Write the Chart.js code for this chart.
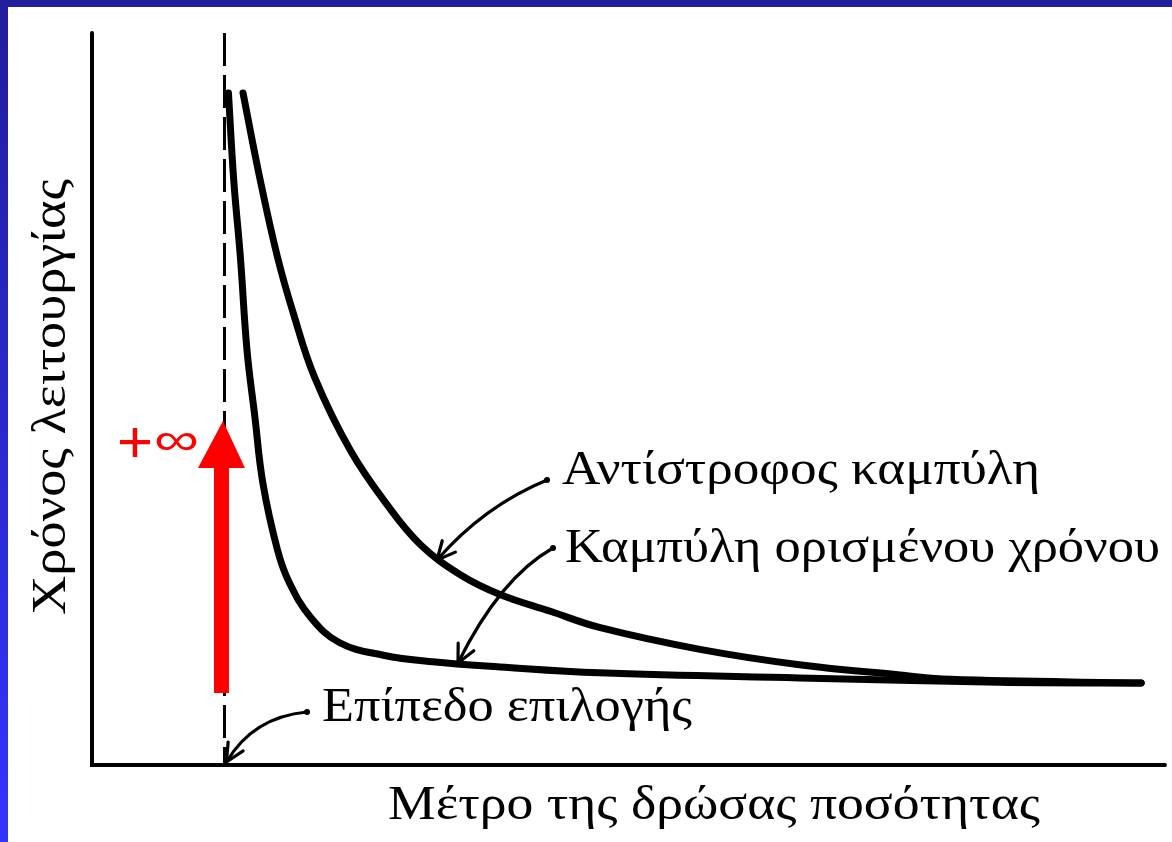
<!DOCTYPE html>
<html>
<head>
<meta charset="utf-8">
<script src="https://cdn.jsdelivr.net/npm/chart.js@4.4.0/dist/chart.umd.min.js"></script>
<style>
  body { margin: 0; background: #fff; }
  #diagram { display: block; }
</style>
</head>
<body>
<canvas id="diagram" width="1172" height="842"></canvas>
<script>
// current in multiples of the pickup setting, time in arbitrary units
const pickupLevel = 1;
const definiteX = [1.03, 1.07, 1.12, 1.17, 1.23, 1.29, 1.40, 1.49, 1.65, 1.87, 2.20, 2.57, 3.08, 3.83, 5.34, 6.85, 7.92];
const definiteY = [9.18, 7.99, 6.94, 5.67, 4.75, 3.85, 2.94, 2.49, 2.02, 1.67, 1.50, 1.41, 1.34, 1.26, 1.19, 1.13, 1.12];
const inverseX = [1.14, 1.27, 1.40, 1.52, 1.68, 1.95, 2.23, 2.48, 2.78, 3.08, 3.46, 3.83, 4.59, 5.34, 6.10, 6.48, 7.92];
const inverseY = [9.18, 7.99, 6.94, 6.17, 5.30, 4.30, 3.55, 3.01, 2.60, 2.33, 2.10, 1.88, 1.58, 1.37, 1.23, 1.17, 1.12];

const xTitle = "Μέτρο της δρώσας ποσότητας";
const yTitle = "Χρόνος λειτουργίας";
const inverseLabel = "Αντίστροφος καμπύλη";
const definiteLabel = "Καμπύλη ορισμένου χρόνου";
const pickupLabel = "Επίπεδο επιλογής";
const plusLabel = "+";
const infinityLabel = "∞";

const toPoints = (xs, ys) => xs.map((x, i) => ({ x: x, y: ys[i] }));

// draw text squeezed to a given width
function fitText(ctx, text, x, y, width, size, color, family) {
  ctx.font = size + 'px ' + (family || '"Liberation Serif", "DejaVu Serif", serif');
  const w = ctx.measureText(text).width;
  ctx.save();
  ctx.fillStyle = color || '#000';
  ctx.textBaseline = 'alphabetic';
  ctx.translate(x, y);
  ctx.scale(width / w, 1);
  ctx.fillText(text, 0, 0);
  ctx.restore();
}

function curvedArrow(ctx, x0, y0, cx, cy, x1, y1) {
  ctx.save();
  ctx.strokeStyle = '#000';
  ctx.lineWidth = 3.2;
  ctx.lineCap = 'round';
  ctx.lineJoin = 'round';
  ctx.beginPath();
  ctx.moveTo(x0, y0);
  ctx.quadraticCurveTo(cx, cy, x1, y1);
  ctx.stroke();
  // thicker pen blob at the start
  ctx.beginPath();
  ctx.arc(x0, y0, 3, 0, Math.PI * 2);
  ctx.fillStyle = '#000';
  ctx.fill();
  const a = Math.atan2(y1 - cy, x1 - cx);
  const len = 20, spread = 0.45;
  ctx.beginPath();
  ctx.moveTo(x1 - len * Math.cos(a - spread), y1 - len * Math.sin(a - spread));
  ctx.lineTo(x1, y1);
  ctx.lineTo(x1 - len * Math.cos(a + spread), y1 - len * Math.sin(a + spread));
  ctx.stroke();
  ctx.restore();
}

const decorations = {
  id: 'decorations',
  beforeDraw(chart) {
    const ctx = chart.ctx;
    ctx.save();
    ctx.fillStyle = '#fff';
    ctx.fillRect(0, 0, chart.width, chart.height);
    ctx.fillStyle = '#211d9b';
    ctx.fillRect(0, 0, chart.width, 7);
    const g = ctx.createLinearGradient(0, 0, 0, chart.height);
    g.addColorStop(0, '#211d9b');
    g.addColorStop(1, '#3434ff');
    ctx.fillStyle = g;
    ctx.fillRect(0, 0, 8, chart.height);
    ctx.restore();
  },
  beforeDatasetsDraw(chart) {
    const ctx = chart.ctx;
    const a = chart.chartArea;
    ctx.save();
    ctx.strokeStyle = '#000';
    ctx.lineWidth = 4;
    ctx.lineCap = 'round';
    ctx.beginPath();
    ctx.moveTo(a.left, a.top);
    ctx.lineTo(a.left, a.bottom);
    ctx.lineTo(a.right, a.bottom);
    ctx.stroke();
    ctx.restore();
  },
  afterDatasetsDraw(chart) {
    const ctx = chart.ctx;
    const xs = chart.scales.x;
    const px = xs.getPixelForValue(pickupLevel);
    const cx = px - 3;

    // red arrow going up along the pickup line
    ctx.save();
    ctx.fillStyle = '#ff0000';
    ctx.fillRect(cx - 7.5, 467, 15, 226);
    ctx.beginPath();
    ctx.moveTo(cx - 23.5, 468);
    ctx.lineTo(cx + 1.5, 421);
    ctx.lineTo(cx + 23.5, 468);
    ctx.closePath();
    ctx.fill();
    ctx.restore();
    fitText(ctx, plusLabel, 117, 462, 36, 60, '#ff0000', '"Liberation Sans", Arial, sans-serif');
    fitText(ctx, infinityLabel, 154, 455, 45, 46, '#ff0000', '"Liberation Sans", Arial, sans-serif');

    // annotation arrows
    curvedArrow(ctx, 547, 480, 484, 506, 437, 560);
    curvedArrow(ctx, 553, 548, 500, 578, 458, 663);
    curvedArrow(ctx, 307, 712, 253, 717, px + 2, 762);

    fitText(ctx, inverseLabel, 562, 484, 478, 49);
    fitText(ctx, definiteLabel, 565, 562, 595, 49);
    fitText(ctx, pickupLabel, 322, 721, 370, 49);
    fitText(ctx, xTitle, 388, 819, 652, 49);

    ctx.save();
    ctx.translate(65, 615);
    ctx.rotate(-Math.PI / 2);
    fitText(ctx, yTitle, 0, 0, 436, 49);
    ctx.restore();
  }
};

const ctx = document.getElementById('diagram').getContext('2d');
new Chart(ctx, {
  type: 'scatter',
  data: {
    datasets: [
      {
        label: 'pickup',
        data: [{ x: pickupLevel, y: 10 }, { x: pickupLevel, y: 0 }],
        showLine: true,
        borderColor: '#000',
        borderWidth: 3,
        borderDash: [33, 9],
        pointRadius: 0,
        clip: false
      },
      {
        label: definiteLabel,
        data: toPoints(definiteX, definiteY),
        showLine: true,
        borderColor: '#000',
        borderWidth: 7,
        borderCapStyle: 'round',
        tension: 0.4,
        pointRadius: 0,
        clip: false
      },
      {
        label: inverseLabel,
        data: toPoints(inverseX, inverseY),
        showLine: true,
        borderColor: '#000',
        borderWidth: 7,
        borderCapStyle: 'round',
        tension: 0.4,
        pointRadius: 0,
        clip: false
      }
    ]
  },
  options: {
    responsive: false,
    animation: false,
    devicePixelRatio: 1,
    layout: { padding: { left: 92, right: 7, top: 33, bottom: 77 } },
    scales: {
      x: { type: 'linear', min: 0, max: 8.1, display: false },
      y: { type: 'linear', min: 0, max: 10, display: false }
    },
    plugins: {
      legend: { display: false },
      tooltip: { enabled: false }
    }
  },
  plugins: [decorations]
});
</script>
</body>
</html>
